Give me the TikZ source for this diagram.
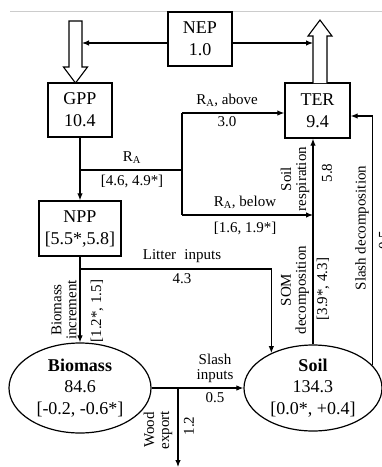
\documentclass[tikz,border=0pt]{standalone}
\usepackage{fontspec}
\setmainfont{Liberation Serif}
\usetikzlibrary{arrows.meta,calc,shapes.geometric}
\begin{document}
\begin{tikzpicture}[x=1pt,y=-1pt,
  box/.style={draw, line width=1.4pt, minimum width=64pt, minimum height=54pt, inner sep=0pt, align=center, font=\fontsize{18}{22}\selectfont},
  pool/.style={draw, ellipse, line width=1.2pt, inner sep=0pt, align=center, font=\fontsize{18}{21.5}\selectfont},
  lab/.style={font=\fontsize{15}{15}\selectfont, align=center, inner sep=0pt},
  wire/.style={line width=1.1pt},
  flow/.style={line width=1.1pt, -{Latex[length=7pt,width=5.5pt]}},
  hollow/.style={draw, line width=1.1pt, fill=white, line join=miter}]
\useasboundingbox (0,0) rectangle (382,467);
\draw[black!20, line width=0.6pt] (10,11) -- (382,11);

% boxes
\node[box] (nep) at (200,39) {NEP\\1.0};
\node[box] (gpp) at (80,110) {GPP\\10.4};
\node[box, minimum width=65pt, minimum height=55pt] (ter) at (317.5,110.5) {TER\\9.4};
\node[box, minimum width=82pt, minimum height=55pt] (npp) at (80,228.5) {NPP\\[0pt][5.5*,5.8]};
\node[pool, minimum width=142pt, minimum height=90pt] (bio) at (80,388) {\textbf{Biomass}\\84.6\\[0pt][-0.2, -0.6*]};
\node[pool, minimum width=138pt, minimum height=86pt] (soil) at (313,388) {\textbf{Soil}\\134.3\\[0pt][0.0*, +0.4]};

% hollow arrows
\draw[hollow] (69,21) -- (82,21) -- (82,67) -- (87.5,67) -- (75.5,83) -- (63.5,67) -- (69,67) -- cycle;
\draw[hollow] (313,83) -- (313,36) -- (308,36) -- (320,20) -- (332,36) -- (327,36) -- (327,83);

% NEP lines
\coordinate (nl) at (82,43);
\coordinate (nr) at (313,43);
\draw[flow] (nep.west |- nl) -- (nl);
\draw[flow] (nep.east |- nr) -- (nr);

% GPP -> NPP and R_A
\draw[flow] (gpp.south) -- (npp.north);
\coordinate (raj) at (80,170);
\coordinate (rak) at (182,170);
\coordinate (raup) at (182,113);
\coordinate (srmid) at (313,215);
\draw[line width=1.8pt] (raj) -- (rak);
\draw[line width=1.5pt] (raup) -- (rak) -- (rak |- srmid);
\draw[flow] (raup) -- (raup -| ter.west);
\draw[flow] (rak |- srmid) -- (srmid);

% soil respiration
\draw[flow] (soil.north) -- (soil.north |- ter.south);

% slash decomposition
\coordinate (sdtop) at (372,116);
\draw[flow] (soil.21) -- (soil.21 |- sdtop) -- (sdtop -| ter.east);

% NPP -> biomass, litter
\draw[flow] (npp.south) -- (bio.north);
\coordinate (litj) at (80,269);
\draw[flow] (litj) -| (soil.140);

% slash inputs, wood export
\draw[flow] (bio.east) -- (soil.west);
\coordinate (wj) at (178,388);
\coordinate (wend) at (178,467);
\draw[flow] (wj) -- (wend);

% labels
\node[lab] (l1) at (227,100) {R\textsubscript{A}, above};
\node[lab] (l2) at (227,122) {3.0};
\node[lab] (l3) at (132,158) {R\textsubscript{A}};
\node[lab] (l4) at (132,181) {[4.6, 4.9*]};
\node[lab] (l5) at (245,202) {R\textsubscript{A}, below};
\node[lab] (l6) at (245,228) {[1.6, 1.9*]};
\node[lab] (l7) at (182,256) {Litter\hspace{0.3em} inputs};
\node[lab] (l8) at (182,279) {4.3};
\node[lab, rotate=90] (l9) at (64,310) {Biomass\\increment};
\node[lab, rotate=90] (l10) at (97,311) {[1.2*, 1.5]};
\node[lab, rotate=90] (l11) at (295,179) {Soil\\respiration};
\node[lab, rotate=90] (l12) at (327,173) {5.8};
\node[lab, rotate=90] (l13) at (295,290) {SOM\\decomposition};
\node[lab, rotate=90] (l14) at (323,289) {[3.9*, 4.3]};
\node[lab, rotate=90] (l15) at (362,228) {Slash decomposition};
\node[lab, rotate=90] (l16) at (384,240) {0.5};
\node[lab] (l17) at (215,368) {Slash\\inputs};
\node[lab] (l18) at (215,398) {0.5};
\node[lab, rotate=90] (l19) at (158,430) {Wood\\export};
\node[lab, rotate=90] (l20) at (189,426) {1.2};
\end{tikzpicture}
\end{document}
